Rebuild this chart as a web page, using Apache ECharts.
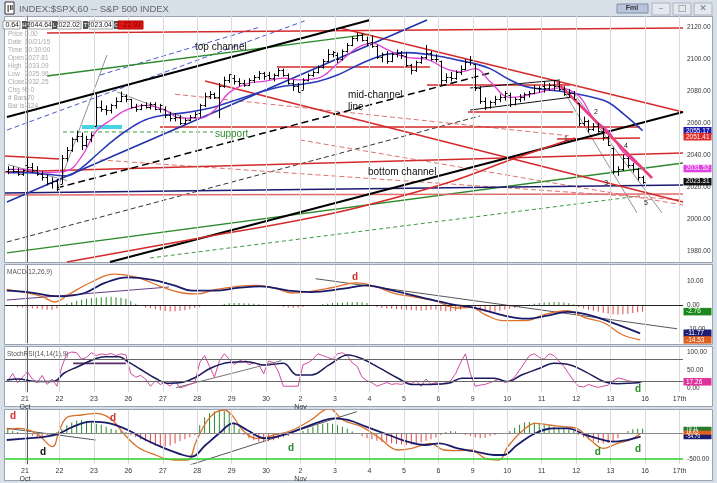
<!DOCTYPE html>
<html><head><meta charset="utf-8">
<script src="https://cdn.jsdelivr.net/npm/echarts@6.0.0/dist/echarts.min.js"></script>
<style>html,body{margin:0;padding:0;background:#d7dfe9;}#c{width:717px;height:483px;}</style>
</head><body><div id="c"></div>
<script>
// ---------------- DATA ----------------
const dayLabels = ['21','22','23','26','27','28','29','30','2','3','4','5','6','9','10','11','12','13','16','17th'];
const monthLabels = {'21':'Oct','2':'Nov'};
const BAR_START = -4; // last 4 hourly bars of Oct 20
const opens = [2030,2031,2030,2028,
 2033.5,2032.3,2030.5,2028,2026,2022.5,2024,
 2022,2038,2043,2050,2052,2046,2050,
 2058.2,2070,2069,2068,2071,2074,2077,
 2075,2070,2069,2071,2070,2072,2069,
 2068.8,2065,2063,2064,2060,2062,2064,
 2066.5,2071,2077,2078,2076,2083,2087,
 2088.4,2086,2085,2084,2087,2089,2091,
 2090,2088,2090,2093,2090,2085,2083,
 2080.8,2087,2090,2092,2095,2099,2103,
 2102.6,2100,2105,2109,2113,2115,2112,
 2110.6,2108,2101,2103,2099,2103,2104,
 2101.7,2096,2093,2098,2101,2104,2100,
 2098.6,2087,2089,2088,2092,2094,2098,
 2096.6,2082,2074,2070,2073,2075,2076,
 2077.2,2072,2075,2076,2078,2079,2082,
 2083.4,2082,2084,2083,2081,2078,2079,
 2072.3,2060,2061,2056,2058,2055,2051,
 2044.6,2030,2031,2038,2034,2031,2026];
const highs = [2033,2033,2032,2031,
 2038,2035,2033,2030,2028,2026,2025,
 2040,2045,2051,2055.2,2054,2052,2054,
 2078,2074,2071,2072,2076,2079.7,2078,
 2075.1,2072,2072,2073,2073,2073,2072,
 2070.4,2067,2066,2065,2063,2065,2067,
 2072,2079,2080,2079,2085,2089,2090.4,
 2090,2088,2087,2088,2090,2092.5,2092,
 2092,2091,2094.3,2094,2091,2087,2085,
 2088,2091,2093,2096,2100,2106.2,2105,
 2104,2106,2110,2114,2116.5,2116,2114,
 2114.6,2109,2104,2105,2104,2106,2105,
 2104,2097,2099,2102,2108.8,2105,2103,
 2099,2091,2092,2093,2096,2100,2101.9,
 2096.6,2083,2076,2074,2077,2078,2080,
 2079,2076,2078,2079,2080,2083.7,2083,
 2086,2085,2086.9,2086,2083,2081,2080,
 2072.3,2064,2062,2060,2060,2057,2052,
 2044.6,2033,2040,2039,2035,2032,2027];
const lows = [2028,2029,2027,2027,
 2029.5,2029,2027,2024,2021,2019,2017.2,
 2021.9,2036,2042,2048,2043,2045,2048,
 2058.2,2067,2065,2066,2069,2073,2073,
 2069,2067,2068,2069,2068.5,2068,2066.5,
 2063,2061,2061,2058.8,2059,2061,2063,
 2063.5,2070,2075,2075,2063.1,2082,2085,
 2084,2083,2082.6,2083,2085,2087,2087,
 2087,2086,2089,2089,2084,2080,2079.3,
 2080.8,2086,2089,2091,2094,2098,2101,
 2097.5,2099,2104,2108,2111,2111,2108,
 2107,2100,2098,2097,2098,2101,2100,
 2095,2090.4,2092,2097,2100,2099,2098,
 2083.7,2085,2086,2087,2090,2093,2096,
 2080,2072,2068.2,2069,2071,2073,2074,
 2069.9,2071,2073,2074,2076,2078,2079,
 2079,2080,2080,2080,2077,2076,2074.9,
 2058,2058,2054,2055,2054,2049,2045.7,
 2028,2027,2030,2032,2029,2024,2022];
const closes = [2031,2030,2028,2030.8,
 2032.3,2030.5,2028,2026,2022.5,2024,2018.9,
 2038,2043,2050,2052,2046,2050,2052.5,
 2070,2069,2068,2071,2074,2077,2075.2,
 2070,2069,2071,2070,2072,2069,2071.2,
 2065,2063,2064,2060,2062,2064,2065.9,
 2071,2077,2078,2076,2083,2087,2090.4,
 2086,2085,2084,2087,2089,2091,2089.4,
 2088,2090,2093,2090,2085,2083,2079.4,
 2087,2090,2092,2095,2099,2103,2104.1,
 2100,2105,2109,2113,2115,2112,2109.8,
 2108,2101,2103,2099,2103,2104,2102.3,
 2096,2093,2098,2101,2104,2100,2099.9,
 2087,2089,2088,2092,2094,2098,2099.2,
 2082,2074,2070,2073,2075,2076,2078.6,
 2072,2075,2076,2078,2079,2082,2081.7,
 2082,2084,2083,2081,2078,2079,2075,
 2060,2061,2056,2058,2055,2051,2046,
 2030,2031,2038,2034,2031,2026,2023];

// price moving averages (read at sample bars)
const maIdx = [-4,0,4,8,11,14,17,20,24,28,31,35,38,41,45,48,52,55,59,63,67,70,73,77,81,85,88,91,94,98,101,105,108,112,115,118,121,125];
const maFast = [2031,2031,2029,2030,2039,2055,2062,2068,2071,2068,2063,2063,2068,2079,2085,2086,2088,2087,2088,2097,2107,2110,2106,2101,2100,2094,2092,2094,2086,2076,2077,2080,2082,2077,2063,2055,2042,2031.5];
const maSlow = [2029,2029,2028,2027,2032,2040,2048,2055,2062,2065,2066,2068,2070,2073,2077,2080,2083,2084,2086,2090,2096,2100,2103,2104,2103,2101,2099,2097,2094,2087,2083,2081,2080,2078,2076,2073,2066,2055.2];
// long red curve
const redCurveIdx = [8.03,35.06,55.38,67.57,85.86,98.06,111.27];
const redCurveVal = [1973.1,1988.1,1999.4,2007.5,2023.1,2036.9,2050.6];

// MACD (12,26,9)
const macdIdx = [-4.2,0,3,5.6,8.3,13,17.6,22.3,27,31.6,34.4,38.1,42.7,46.4,50.1,53.9,57.6,62.3,66.9,70.6,74.3,78,82.7,87.4,90.1,93,96.6,101.3,105,109.7,113.4,117.2,120.9,124.5];
const macdVal = [6.5,5.0,3.5,1.25,4.3,9.6,12.9,11.5,7.8,5.0,4.6,6.4,7.8,8.2,7.1,5.0,5.7,7.4,9.2,7.8,5.0,3.6,1.8,-1.25,-1.0,-4.0,-6.5,-6.5,-4.0,-2.4,-5.4,-7.5,-12.4,-14.5];
const sigIdx = [-4.2,0,6.5,11.6,15.7,20.4,25.1,29.8,33.4,38.1,42.7,47.4,53,57.6,64.2,68.8,73.5,80,86,91.1,96.7,101.3,106,109.7,113.4,118.1,124.5];
const sigVal = [6.0,5.4,3.6,5.0,9.2,11.5,10.6,8.2,6.0,6.0,7.1,7.8,6.0,5.4,6.8,8.2,6.4,3.2,0.4,-1.25,-4.3,-5.7,-4.3,-2.9,-3.75,-6.8,-11.8];
const macdHist = [-0.3,-0.5,-0.8,-1.0,
 -1.2,-1.5,-1.6,-1.8,-2.0,-2.0,-1.5,
 -0.5,0.5,1.2,1.8,2.2,2.6,2.8,
 3.0,3.2,3.3,3.4,3.2,3.0,2.6,
 1.6,0.5,-0.4,-1.0,-1.4,-1.8,-2.2,
 -2.5,-2.7,-2.6,-2.5,-2.2,-1.8,-1.2,
 -0.8,-0.5,-0.3,-0.2,0.0,0.4,0.7,
 0.8,0.8,0.7,0.6,0.5,0.3,0.1,
 -0.1,-0.3,-0.5,-0.8,-1.0,-1.1,-1.0,
 -0.8,-0.5,-0.2,0.0,0.3,0.5,0.8,
 0.9,1.0,1.1,1.2,1.3,1.1,0.8,
 -0.4,-0.8,-1.2,-1.5,-1.6,-1.7,-1.8,
 -2.0,-2.2,-2.3,-2.4,-2.2,-2.0,-1.8,
 -2.4,-2.6,-2.6,-2.4,-2.0,-1.5,-1.0,
 -1.8,-2.4,-2.8,-3.0,-2.8,-2.4,-2.0,
 -1.6,-1.2,-0.8,-0.4,0.1,0.5,0.8,
 1.0,1.2,1.3,1.2,1.0,0.7,0.3,
 -0.8,-1.5,-2.0,-2.4,-2.8,-3.2,-3.5,
 -3.8,-4.0,-3.8,-3.6,-3.3,-3.0,-2.8];

// StochRSI(14,14(1),9)
const stochK = [20,40,15,30,
 45,25,15,35,10,25,5,
 60,95,100,98,80,85,98,
 90,95,92,96,90,95,92,
 40,30,35,25,5,20,10,
 15,5,20,0,5,10,15,
 70,90,60,30,75,95,80,
 65,75,80,65,70,65,40,
 75,70,45,5,5,5,5,
 65,70,80,95,90,85,80,
 95,98,90,70,60,30,20,
 15,5,10,15,10,12,10,
 15,12,20,5,25,10,15,
 10,15,20,40,70,95,40,
 5,8,10,15,20,25,15,
 20,30,50,70,90,95,85,
 80,95,90,75,60,40,20,
 5,3,10,5,2,5,8,
 20,28,25,20,18,16,17.3];
const stochDIdx = [-4.2,-1.9,1.8,5.5,7.4,10.2,13.9,15.8,18.6,20.4,23.2,26,28.8,31.6,34.4,37.2,40.9,44.6,48.3,52,54.8,57.6,61.3,65.1,67.9,71.6,75.3,78.1,81.8,85.5,88.3,91.1,94.8,97.6,100.4,104.1,106.9,109.7,113.4,117.1,119.9,124.6];
const stochDVal = [22,25,18,19,41,59,82,87,87,73,50,27,13,16,31.5,55,71,73,64,68.5,36,36,64,92,82,55,27,10,10,13,27,27,27,18,36,55,68.5,66,45,18,12,15];

// lower oscillator panel
const oscHist = [60,40,20,-20,
 -40,-60,-80,-60,-40,-20,20,
 80,150,200,240,250,230,200,
 180,160,120,80,60,40,20,
 -40,-80,-120,-160,-200,-240,-260,
 -260,-240,-200,-160,-120,-80,-40,
 150,300,380,420,440,420,380,
 200,80,-40,-100,-140,-170,-170,
 -160,-140,-110,-80,-60,-30,-10,
 40,80,120,160,180,190,180,
 150,120,80,30,-20,-60,-100,
 -120,-150,-170,-180,-200,-210,-220,
 -230,-220,-200,-180,-150,-120,-80,
 -40,20,40,30,-20,-40,-60,
 -80,-100,-90,-60,-40,-20,0,
 40,100,160,200,210,200,180,
 160,140,120,100,80,60,40,
 -40,-80,-120,-160,-190,-200,-190,
 -160,-100,-20,40,70,80,80];
const oscFastIdx = [-4.2,-1.9,1.8,5.1,6.5,8.3,11.1,13.9,17.2,19.5,22.3,26,29.7,32.5,34.4,37.2,40,41.8,43.7,46.5,50.2,53.9,57.6,61.3,64.1,67.9,71.6,75.3,78.1,81.8,84.6,87.4,90.2,93,95.8,97.6,100.4,103.2,106,108.8,111.6,114.4,117.1,119.9,122.7,124.6];
const oscFastVal = [71,90,-6,-263,58,314,346,378,250,-6,-263,-423,-519,-519,-135,314,442,314,58,-103,-38,58,250,470,250,122,-103,-327,-295,-199,-327,-340,-327,-487,-519,-263,26,186,154,122,90,-135,-295,-199,-122,-6];
const oscSlowIdx = [-4.2,0,3.7,6.5,9.3,13,16.7,20.4,24.1,27.9,31.6,33.4,36.2,39,41.8,44.6,48.3,52,55.8,59.5,62.3,65.1,68.8,73.4,77.2,80.9,83.7,87.4,91.1,94.8,96.7,99.5,103.2,106.9,109.7,113.4,117.1,119,121.8,124.6];
const oscSlowVal = [-135,-103,-71,-6,122,218,186,58,-135,-295,-423,-455,-231,-6,186,58,-103,-38,90,218,282,250,122,-38,-167,-231,-199,-295,-359,-423,-423,-231,-6,90,90,-38,-135,-167,-135,-71];

// trend lines [x1, y1, x2, y2] in bar index / price units
const redLines = [[3.97,2116.25,133.21,2119.4],[36.08,2086.25,133.21,2010.6],[63.51,2119.4,133.21,2066.9],
 [-4.56,2029.4,133.21,2041.25],[26.93,2057.5,124.48,2057.5],[50.71,2095,81.8,2095],[81.19,2083.75,110.25,2083.75],
 [89.52,2066.9,110.86,2066.9],[107.61,2050,124.48,2050.6],[-4.56,2039.4,6.61,2037.5]];
const redLowLine = [[-4.56,2015,133.21,2015.6]];
const redDashed = [[14.74,2036.9,133.21,2011.9],[55.38,2049.4,133.21,2008.75],[30,2078,110,2052]];
const blackThick = [[-4.16,2063.75,69.61,2124.4],[16.77,1973.1,133.21,2066.9]];
const blackDashed = [[6.0,2019.4,93.99,2091.25]];
const blackDashedThin = [[-4.16,1985.6,91.96,2064.4]];
const blackThin = [[89.93,2081.9,108.22,2086.9],[89.93,2068.1,110.86,2076.25]];
const greyThin = [[107.61,2086.9,123.87,2003.75],[110.86,2079.4,128.95,2003.75],[6.0,2018.1,16.16,2102.5],[18.2,2079.4,33.03,2061.9],[-4,2034,8,2024]];
const greenLines = [[3.97,2089.4,69.61,2115.6],[-4.16,1978.75,133.21,2035]];
const greenDashed = [[24.9,1975.6,124.48,2014.4],[7.22,2054.4,37.70,2054.4]];
const blueThick = [[-4.16,2010.6,81.19,2124.4]];
const blueDashed = [[-4.16,2055.6,56.8,2124.4],[14.74,2090,47.25,2120]];
const navyLine = [[-4.56,2016.25,133.21,2021.25]];
const pinkLine = [[107.61,2085.6,126.92,2025.6]];
const cyanLine = [[11.08,2057.5,19.21,2057.5]];
const macdLines = [[58.55,10.96,132.0,-9.9]];
const macdLines2 = [[-4.22,2.08,28.76,7.5]];
const stochLines = [[30.2,1,51.6,76]];
const stochLines2 = [[9.3,68.5,20,68.5]];
const oscLines = [[-4.2,90,13.9,-135],[32.97,-615,66.9,410]];

// last-value badges
const priceBadges = [[2055.17,'#1c1ca8','2055.17'],[2051.41,'#e02828','2051.41'],[2031.52,'#e040e0','2031.52'],[2023.31,'#111111','2023.31']];
const macdBadges = [[-2.76,'#1a8a1a','-2.76'],[-11.77,'#1c1c70','-11.77'],[-14.53,'#e06020','-14.53']];
const stochBadges = [[17.26,'#e0309a','17.26']];
const oscBadges = [[77,'#2a7a2a','79.11'],[0,'#e06020','18.63'],[-77,'#1c1c70','-54.70']];

// ---------------- CHART ----------------
const FONT = 'Liberation Sans, Arial, sans-serif';
const XMIN = -4.56, XMAX = 133.21;
const dayStarts = dayLabels.map((_, d) => 7 * d - 0.5);
const grids = [
  {left:5, right:34, top:16, height:246},
  {left:5, right:34, top:265, height:78},
  {left:5, right:34, top:347, height:45},
  {left:5, right:34, top:410, height:54}
];
const yRanges = [[1973.1,2126.9],[-15.83,16.67],[-11.1,113.9],[-596,442]];
const yTicks = [[1980,2000,2020,2040,2060,2080,2100,2120],[-10,0,10],[0,50,100],[-500]];

function fmtDay(v){
  const d = Math.round((v + 0.5) / 7);
  const lab = dayLabels[d] || '';
  return monthLabels[lab] && (d === 0 || d === 8) ? lab + '\n' + monthLabels[lab] : lab;
}
const zip = (xs, ys) => xs.map((x, k) => [x, ys[k]]);
const seriesFromBars = (vals) => vals.map((v, k) => [BAR_START + k, v]);

function segs(list, k, color, width, type, z){
  return list.map(s => ({type:'line', xAxisIndex:k, yAxisIndex:k, data:[[s[0],s[1]],[s[2],s[3]]],
    symbol:'none', silent:true, animation:false, clip:true, z:z||3,
    lineStyle:{color:color, width:width, type:type||'solid'}}));
}
function curve(data, k, color, width, z){
  return {type:'line', xAxisIndex:k, yAxisIndex:k, data:data, symbol:'none', smooth:0.4, silent:true,
    animation:false, clip:true, z:z||4, lineStyle:{color:color, width:width}};
}
function dayLinesSeries(k){
  return {type:'line', xAxisIndex:k, yAxisIndex:k, data:[], symbol:'none', silent:true, animation:false, z:1,
    markLine:{silent:true, symbol:'none', animation:false, label:{show:false},
      lineStyle:{color:'#dadada', width:1, type:'solid'}, data: dayStarts.map(v => ({xAxis:v}))}};
}
function hMark(k, vals, color, width){
  return {type:'line', xAxisIndex:k, yAxisIndex:k, data:[], symbol:'none', silent:true, animation:false, z:2,
    markLine:{silent:true, symbol:'none', animation:false, label:{show:false},
      lineStyle:{color:color, width:width, type:'solid'}, data: vals.map(v => ({yAxis:v}))}};
}

const ohlcData = opens.map((o, k) => [BAR_START + k, o, closes[k], lows[k], highs[k]]);
function renderOHLC(params, api){
  const x = api.value(0);
  const o = api.coord([x, api.value(1)]);
  const c = api.coord([x, api.value(2)]);
  const l = api.coord([x, api.value(3)]);
  const h = api.coord([x, api.value(4)]);
  const px = Math.round(h[0]) + 0.5;
  const st = {stroke:'#000', lineWidth:1};
  return {type:'group', children:[
    {type:'line', shape:{x1:px, y1:h[1], x2:px, y2:l[1]}, style:st},
    {type:'line', shape:{x1:px-2, y1:Math.round(o[1])+0.5, x2:px, y2:Math.round(o[1])+0.5}, style:st},
    {type:'line', shape:{x1:px, y1:Math.round(c[1])+0.5, x2:px+2, y2:Math.round(c[1])+0.5}, style:st}
  ]};
}

const series = [];
[0,1,2,3].forEach(k => series.push(dayLinesSeries(k)));
// price panel
series.push(...segs(greenDashed, 0, '#3a9a3a', 1, [4,3]));
series.push(...segs(blueDashed, 0, '#4a5ad0', 1, [5,3]));
series.push(...segs(blackDashedThin, 0, '#333', 1, [5,3]));
series.push(...segs(redDashed, 0, '#e07070', 1, [5,3]));
series.push(...segs(greyThin, 0, '#777', 0.8));
series.push(...segs(greenLines, 0, '#2a8a2a', 1.3));
series.push(...segs(navyLine, 0, '#1a1a70', 1.6));
series.push(...segs(redLowLine, 0, '#e06a6a', 1.6));
series.push(...segs(redLines, 0, '#d42a2a', 1.6));
series.push(curve(zip(redCurveIdx, redCurveVal), 0, '#d42a2a', 1.6));
series.push(...segs(blackThick, 0, '#000', 1.9));
series.push(...segs(blackDashed, 0, '#000', 1.5, [7,4]));
series.push(...segs(blackThin, 0, '#111', 1));
series.push(...segs(blueThick, 0, '#2233aa', 1.6));
series.push(...segs(cyanLine, 0, '#44d4e4', 4));
series.push(curve(zip(maIdx, maSlow), 0, '#2a3ab8', 1.6, 5));
series.push(curve(zip(maIdx, maFast), 0, '#e040d8', 1.3, 5));
series.push(...segs(pinkLine, 0, '#e8407a', 2.6, 'solid', 5));
series.push(...segs([[0,2068,0,1973.1]], 0, '#555', 1));
series.push({type:'custom', name:'SPX', xAxisIndex:0, yAxisIndex:0, data:ohlcData, renderItem:renderOHLC,
  encode:{x:0, y:[1,2,3,4]}, clip:true, z:8, silent:true, animation:false});
// MACD panel
series.push(hMark(1, [0], '#222', 1.2));
series.push({type:'bar', xAxisIndex:1, yAxisIndex:1, data:seriesFromBars(macdHist), barWidth:1, silent:true, animation:false, z:3,
  itemStyle:{color: p => p.value[1] >= 0 ? '#2a8a2a' : '#e04848'}});
series.push(...segs(macdLines, 1, '#444', 0.9));
series.push(...segs(macdLines2, 1, '#6a3a8a', 1));
series.push(curve(zip(macdIdx, macdVal), 1, '#e0702a', 1.3));
series.push(curve(zip(sigIdx, sigVal), 1, '#1a1a6a', 1.8));
series.push(...segs([[0,-15.83,0,16.67]], 1, '#555', 1));
// StochRSI panel
series.push(hMark(2, [80, 20], '#666', 1.2));
series.push(...segs(stochLines, 2, '#666', 0.9));
series.push(...segs(stochLines2, 2, '#5a2a6a', 1.6));
series.push({type:'line', xAxisIndex:2, yAxisIndex:2, data:seriesFromBars(stochK), symbol:'none', silent:true, animation:false, z:4,
  lineStyle:{color:'#d04aa0', width:1}});
series.push(curve(zip(stochDIdx, stochDVal), 2, '#1a1a5a', 1.5));
series.push(...segs([[0,-11.1,0,113.9]], 2, '#555', 1));
// lower oscillator panel
series.push(hMark(3, [0], '#888', 1));
series.push(hMark(3, [-500], '#2ad02a', 1.6));
series.push({type:'bar', xAxisIndex:3, yAxisIndex:3, data:seriesFromBars(oscHist), barWidth:1, silent:true, animation:false, z:3,
  itemStyle:{color: p => p.value[1] >= 0 ? '#2a8a2a' : '#e04848'}});
series.push(...segs(oscLines, 3, '#444', 0.9));
series.push(curve(zip(oscFastIdx, oscFastVal), 3, '#d8702a', 1.3));
series.push(curve(zip(oscSlowIdx, oscSlowVal), 3, '#1a1a6a', 1.8));
series.push(...segs([[0,-596,0,442]], 3, '#555', 1));

const chart = echarts.init(document.getElementById('c'), null, {renderer:'canvas', width:717, height:483});
chart.setOption({
  animation:false,
  backgroundColor:'#d7dfe9',
  grid: grids,
  xAxis: grids.map((g, k) => ({type:'value', gridIndex:k, min:XMIN, max:XMAX,
    axisLine:{show:false}, axisTick:{show:false}, splitLine:{show:false},
    axisLabel: k >= 2 ? {show:true, customValues:dayStarts, formatter:fmtDay, fontSize:7, color:'#333',
      fontFamily:FONT, margin:3, lineHeight:8} : {show:false}})),
  yAxis: grids.map((g, k) => ({type:'value', gridIndex:k, position:'right', min:yRanges[k][0], max:yRanges[k][1],
    axisLine:{show:true, lineStyle:{color:'#8a8a8a'}}, axisTick:{show:false}, splitLine:{show:false},
    axisLabel:{show:true, customValues:yTicks[k], formatter: v => Number(v).toFixed(2), fontSize:6.5,
      color:'#333', margin:4, fontFamily:FONT}})),
  series: series
});

// ---------------- GRAPHIC OVERLAYS ----------------
const gfx = [];
// panel backgrounds
[[16,246],[264,80],[346,60],[409,71]].forEach(([y,h]) => gfx.push({type:'rect', z:-10, silent:true,
  shape:{x:4.5, y:y+0.5, width:708, height:h}, style:{fill:'#ffffff', stroke:'#9aa4b0', lineWidth:1}}));
// title bar
gfx.push({type:'rect', z:10, shape:{x:5, y:2, width:9, height:12}, style:{fill:'#ffffff', stroke:'#333', lineWidth:1}});
gfx.push({type:'text', z:10, style:{x:7, y:4, text:'|‖', font:'bold 8px ' + FONT, fill:'#222'}});
gfx.push({type:'text', z:10, style:{x:19, y:9, text:'INDEX:$SPX,60 -- S&P 500 INDEX', font:'9.5px ' + FONT, fill:'#666', verticalAlign:'middle'}});
gfx.push({type:'rect', z:10, shape:{x:617, y:4, width:31, height:9}, style:{fill:'#b8c4d8', stroke:'#8090a8'}});
gfx.push({type:'text', z:10, style:{x:632, y:8.5, text:'Fml', font:'bold 7px ' + FONT, fill:'#334', align:'center', verticalAlign:'middle'}});
[['–',652],['□',673],['✕',694]].forEach(([t,x]) => {
  gfx.push({type:'rect', z:10, shape:{x:x, y:3, width:18, height:12}, style:{fill:'#e4e9f0', stroke:'#a8b2c0'}});
  gfx.push({type:'text', z:10, style:{x:x+9, y:9, text:t, font:'9px DejaVu Sans', fill:'#777', align:'center', verticalAlign:'middle'}});
});
// toolbar values
[[3,17,'0.64'],[29,24,'2044.64'],[57,24,'2022.02'],[89,24,'2023.04']].forEach(([x,w,t]) => {
  gfx.push({type:'rect', z:20, shape:{x:x, y:21, width:w, height:8}, style:{fill:'#fff', stroke:'#888', lineWidth:0.8}});
  gfx.push({type:'text', z:20, style:{x:x+w-1, y:25.5, text:t, font:'7px ' + FONT, fill:'#222', align:'right', verticalAlign:'middle'}});
});
[['H',23],['L',53],['T',84],['C',115]].forEach(([t,x]) => {
  gfx.push({type:'rect', z:20, shape:{x:x-1, y:21, width:5, height:8}, style:{fill:'#555'}});
  gfx.push({type:'text', z:20, style:{x:x+1.5, y:25.5, text:t, font:'6px ' + FONT, fill:'#fff', align:'center', verticalAlign:'middle'}});
});
gfx.push({type:'rect', z:20, shape:{x:118, y:21, width:25, height:8}, style:{fill:'#e41414', stroke:'#a00'}});
gfx.push({type:'text', z:20, style:{x:141, y:25.5, text:'-22.93', font:'7px ' + FONT, fill:'#700', align:'right', verticalAlign:'middle'}});
// data window
const dwLab = ['Price','Date','Time','Open','High','Low','Close','Chg %','# Bars','Bar is'];
const dwVal = ['0.00','10/21/15','10:30:00','2027.81','2033.09','2025.96','2032.25','0.0','-70','-124'];
dwLab.forEach((t, k) => {
  gfx.push({type:'text', z:20, style:{x:8, y:34 + k*8, text:t, font:'6.5px ' + FONT, fill:'#aaa', verticalAlign:'middle'}});
  gfx.push({type:'text', z:20, style:{x:25, y:34 + k*8, text:dwVal[k], font:'6.5px ' + FONT, fill:'#aaa', verticalAlign:'middle'}});
});
// panel titles
gfx.push({type:'text', z:20, style:{x:7, y:272, text:'MACD(12,26,9)', font:'6.5px ' + FONT, fill:'#555', verticalAlign:'middle'}});
gfx.push({type:'text', z:20, style:{x:7, y:354, text:'StochRSI(14,14(1),9)', font:'6.5px ' + FONT, fill:'#555', verticalAlign:'middle'}});

// annotations anchored in data space
const notes = [
  [0,'top channel',34.05,2107.5,'#111','10px'],
  [0,'mid-channel',65.14,2077.5,'#111','10px'],
  [0,'line',65.14,2070,'#111','10px'],
  [0,'support',38.1,2053.1,'#2f8f2f','10px'],
  [0,'bottom channel',69.2,2029.4,'#111','10px'],
  [0,'1',109.4,2050,'#222','7px'],[0,'2',115.5,2066.9,'#222','7px'],[0,'3',117.6,2022.5,'#222','7px'],
  [0,'4',121.6,2045.6,'#222','7px'],[0,'5',125.7,2010,'#222','7px'],
  [1,'d',66.56,11.67,'#d03030','bold 10px'],
  [2,'d',124.07,-2.8,'#2a8a2a','bold 10px'],
  [3,'d',-2.94,327,'#d03030','bold 10px'],[3,'d',3.16,-365,'#111','bold 10px'],
  [3,'d',17.38,288,'#d03030','bold 10px'],[3,'d',53.55,-288,'#2a8a2a','bold 10px'],
  [3,'d',115.9,-365,'#2a8a2a','bold 10px'],[3,'d',124.07,-308,'#2a8a2a','bold 10px']
];
notes.forEach(([k,t,x,y,c,f]) => {
  const p = chart.convertToPixel({gridIndex:k}, [x, y]);
  gfx.push({type:'text', z:30, silent:true, style:{x:p[0], y:p[1], text:t, font:f + ' ' + FONT, fill:c,
    align: t.length > 1 ? 'left' : 'center', verticalAlign:'middle'}});
});
// value badges
[[0,priceBadges],[1,macdBadges],[2,stochBadges],[3,oscBadges]].forEach(([k,list]) => {
  list.forEach(([v,c,t]) => {
    const y = chart.convertToPixel({yAxisIndex:k}, v);
    const h = k === 3 ? 4.5 : 7.5;
    gfx.push({type:'rect', z:30, shape:{x:683.5, y:y - h/2, width:28, height:h}, style:{fill:c}});
    gfx.push({type:'text', z:31, style:{x:686, y:y, text:t, font:(k===3?'5px ':'6.5px ') + FONT, fill:'#fff', verticalAlign:'middle'}});
  });
});
chart.setOption({graphic:{elements:gfx}});
</script></body></html>
